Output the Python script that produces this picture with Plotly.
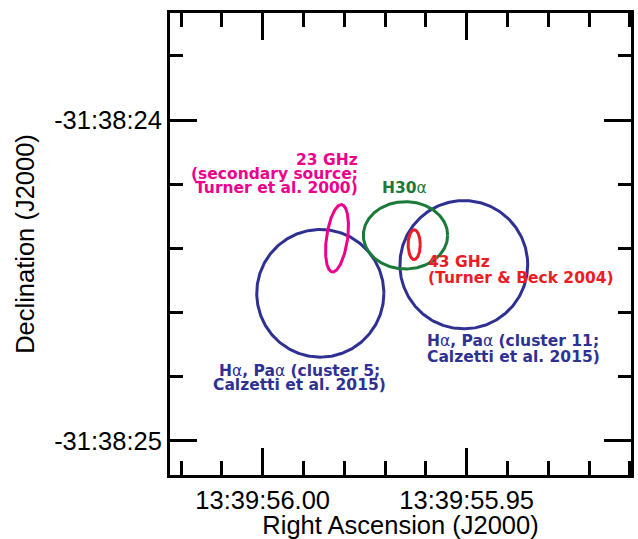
import numpy as np
import plotly.graph_objects as go

# ---------------- data ----------------
# Source regions: centre RA (seconds of 13:39:xx), centre Dec (arcsec of -31:38:xx),
# semi-axes in arcsec (east-west, north-south) and tilt of the major axis (deg)
region_names = ["Ha/Paa cluster 5", "Ha/Paa cluster 11", "H30a", "43 GHz", "23 GHz"]
ra_sec = [55.98588, 55.95071, 55.96500, 55.96287, 55.98179]
dec_sec = [24.5404, 24.4512, 24.3595, 24.3888, 24.3689]
semi_ew = [0.199, 0.200, 0.132, 0.0190, 0.033]
semi_ns = [0.199, 0.200, 0.105, 0.0465, 0.106]
tilt_deg = [0, 0, 0, 0, 8]

# axis ticks
x_major = [56.00, 55.95]
x_major_labels = ["13:39:56.00", "13:39:55.95"]
x_minor = [56.02, 56.01, 55.99, 55.98, 55.97, 55.96, 55.94, 55.93, 55.92, 55.91]
y_major = [24.0, 25.0]
y_major_labels = ["-31:38:24", "-31:38:25"]
y_minor = [23.8, 24.2, 24.4, 24.6, 24.8]

# labels
label_lines = [
    ("<b>23 GHz</b>", 55.97615, 24.1232, "right", "magenta"),
    ("<b>(secondary source;</b>", 55.97615, 24.1684, "right", "magenta"),
    ("<b>Turner et al. 2000)</b>", 55.97615, 24.2120, "right", "magenta"),
    ("<b>H30</b>α", 55.97125, 24.2120, "left", "green"),
    ("<b>43 GHz</b>", 55.96000, 24.4428, "left", "red"),
    ("<b>(Turner &amp; Beck 2004)</b>", 55.96000, 24.4927, "left", "red"),
    ("<b>H</b>α<b>, Pa</b>α<b> (cluster 11;</b>", 55.96010, 24.6891, "left", "navy"),
    ("<b>Calzetti et al. 2015)</b>", 55.96010, 24.7375, "left", "navy"),
    ("<b>H</b>α<b>, Pa</b>α<b> (cluster 5;</b>", 55.99086, 24.7811, "center", "navy"),
    ("<b>Calzetti et al. 2015)</b>", 55.99086, 24.8263, "center", "navy"),
]

# ---------------- styling ----------------
palette = {"magenta": "#EC008C", "green": "#1B7A3A", "red": "#ED1C24", "navy": "#2E3192"}
region_colors = ["navy", "navy", "green", "red", "magenta"]
ARCSEC_PER_RA_SEC = 15.0 * np.cos(np.deg2rad(31.64))
FONT = "Liberation Sans, Arial, sans-serif"

fig = go.Figure()
t = np.linspace(0, 2 * np.pi, 361)
for ra0, de0, a_ew, a_ns, tilt, c in zip(ra_sec, dec_sec, semi_ew, semi_ns, tilt_deg, region_colors):
    th = np.deg2rad(tilt)
    u0 = a_ew * np.cos(t)
    v0 = a_ns * np.sin(t)
    u = u0 * np.cos(th) - v0 * np.sin(th)   # arcsec, +west (right)
    v = u0 * np.sin(th) + v0 * np.cos(th)   # arcsec, +south (down)
    fig.add_trace(go.Scatter(
        x=ra0 - u / ARCSEC_PER_RA_SEC, y=de0 + v,
        mode="lines", line=dict(color=palette[c], width=3),
        hoverinfo="skip", showlegend=False))

for txt, x, y, anchor, c in label_lines:
    fig.add_annotation(x=x, y=y, xref="x", yref="y", text=txt, showarrow=False,
                       xanchor=anchor, yanchor="middle",
                       font=dict(family="DejaVu Sans", size=15.5, color=palette[c]))

axis_common = dict(
    showline=True, linecolor="black", linewidth=3, mirror="ticks",
    ticks="inside", tickwidth=3, tickcolor="black",
    showgrid=False, zeroline=False,
    tickfont=dict(family=FONT, size=25.5, color="black"),
)

fig.update_xaxes(
    range=[56.02272, 55.90973], tickmode="array", tickvals=x_major, ticktext=x_major_labels,
    ticklen=27,
    minor=dict(ticks="inside", tickvals=x_minor, ticklen=14, tickwidth=3, tickcolor="black", showgrid=False),
    title=dict(text="Right Ascension (J2000)", font=dict(family=FONT, size=25.5, color="black"),
               standoff=1),
    **axis_common)
fig.update_yaxes(
    range=[25.10695, 23.66635], tickmode="array", tickvals=y_major, ticktext=y_major_labels,
    ticklen=27,
    minor=dict(ticks="inside", tickvals=y_minor, ticklen=13, tickwidth=3, tickcolor="black", showgrid=False),
    title=dict(text="Declination (J2000)", font=dict(family=FONT, size=25.5, color="black"),
               standoff=13),
    **axis_common)

fig.update_layout(
    width=638, height=539,
    margin=dict(l=170, r=7, t=13, b=64, autoexpand=False),
    paper_bgcolor="white", plot_bgcolor="white",
)

fig.write_html("out.html")
